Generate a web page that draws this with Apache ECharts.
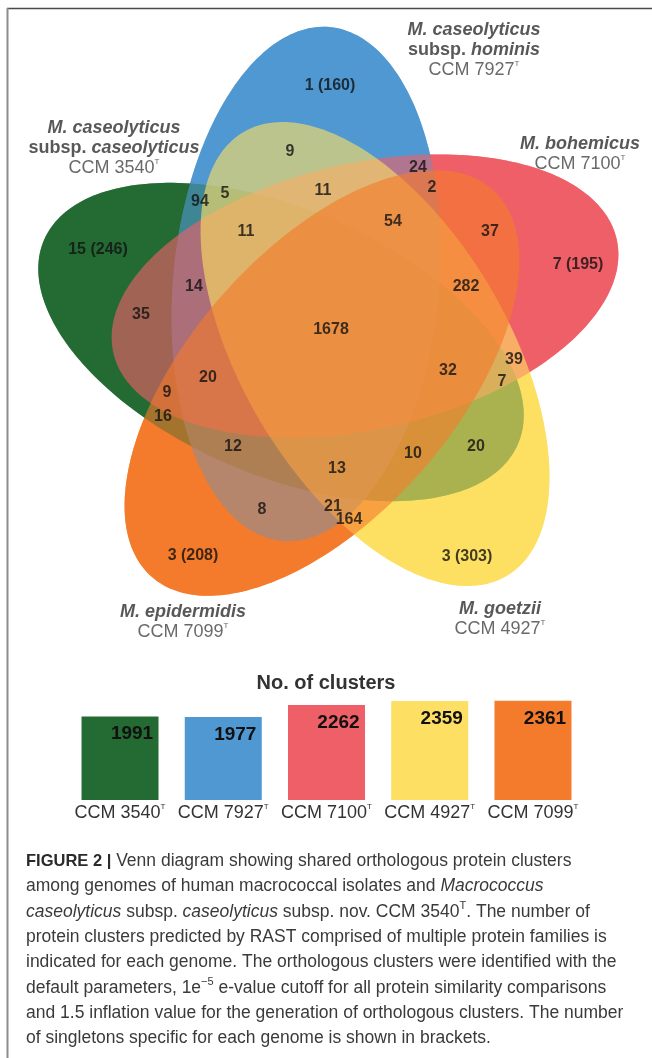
<!DOCTYPE html>
<html>
<head>
<meta charset="utf-8">
<script src="https://cdn.jsdelivr.net/npm/echarts@6/dist/echarts.min.js"></script>
<style>
  html, body { margin: 0; padding: 0; background: #ffffff; }
  #main { width: 652px; height: 1058px; }
</style>
</head>
<body>
<div id="main"></div>
<script>
// ---- Genomes (same order for the Venn sets and the bar chart) ----
const strains = ['CCM 3540', 'CCM 7927', 'CCM 7100', 'CCM 4927', 'CCM 7099'];
const species = ['M. caseolyticus', 'M. caseolyticus', 'M. bohemicus', 'M. goetzii', 'M. epidermidis'];
const subspecies = ['caseolyticus', 'hominis', null, null, null];
const clusterCounts = [1991, 1977, 2262, 2359, 2361];
const setColors = ['#246b33', '#5098d2', '#ef5f67', '#fddf63', '#f37b2b'];

// ---- Venn region values: shared clusters, singletons in brackets ----
const regionCounts = [
  '1 (160)', '9', '24', '2', '94', '5', '11', '11', '54', '37', '7 (195)',
  '15 (246)', '14', '282', '35', '1678', '39', '32', '20', '7', '9', '16',
  '12', '20', '10', '13', '8', '21', '164', '3 (208)', '3 (303)'
];

// ---- Layout of the Venn drawing (plot units = pixels of the Venn grid) ----
const ELLIPSE_A = 258;          // semi-major axis
const ELLIPSE_B = 133;          // semi-minor axis
const FILL_ALPHA = 0.62;        // transparency of the stacked sets
const ellipseLayout = [          // centre x, centre y, major-axis angle (deg)
  [281, 342, 23.3],
  [306, 284, 95.3],
  [365, 296, 167.3],
  [375, 354, 59.3],
  [322, 383, 131.3]
];
const regionPos = [
  [330, 86], [290, 152], [418, 168], [432, 188], [200, 202], [225, 194],
  [323, 191], [246, 232], [393, 222], [490, 232], [578, 265], [98, 250],
  [194, 287], [466, 287], [141, 315], [331, 330], [514, 360], [448, 371],
  [208, 378], [502, 382], [167, 393], [163, 417], [233, 447], [476, 447],
  [413, 454], [337, 469], [262, 510], [333, 507], [349, 520], [193, 556],
  [467, 557]
];
const namePos = [[114, 148], [474, 50], [580, 154], [500, 619], [183, 622]];

const FONT = '"Liberation Sans", Arial, Helvetica, sans-serif';

function hexToRgba(hex, a) {
  const n = parseInt(hex.slice(1), 16);
  return 'rgba(' + (n >> 16) + ',' + ((n >> 8) & 255) + ',' + (n & 255) + ',' + a + ')';
}

function ellipsePolygon(api, setIdx) {
  const [cx, cy, deg] = ellipseLayout[setIdx];
  const th = deg * Math.PI / 180;
  const pts = [];
  const N = 240;
  for (let k = 0; k < N; k++) {
    const t = k / N * Math.PI * 2;
    const ex = ELLIPSE_A * Math.cos(t), ey = ELLIPSE_B * Math.sin(t);
    pts.push(api.coord([cx + ex * Math.cos(th) - ey * Math.sin(th),
                        cy + ex * Math.sin(th) + ey * Math.cos(th)]));
  }
  return pts;
}

// Opaque underlay: the first set (in drawing order) covering a point shows through
const underlayOrder = [4, 3, 2, 1, 0];
const overlayOrder = [0, 1, 2, 3, 4];

function setNameLabel(i) {
  const lines = ['{sp|' + species[i] + '}'];
  if (subspecies[i]) lines.push('{b|subsp. }{sp|' + subspecies[i] + '}');
  lines.push('{r|' + strains[i] + '}{sup|T}');
  return lines.join('\n');
}

const nameRich = {
  sp: { fontFamily: FONT, fontSize: 18, fontWeight: 'bold', fontStyle: 'italic', color: '#2e2e2e', lineHeight: 20, align: 'center' },
  b: { fontFamily: FONT, fontSize: 18, fontWeight: 'bold', color: '#2e2e2e', lineHeight: 20, align: 'center' },
  r: { fontFamily: FONT, fontSize: 18, color: '#444444', lineHeight: 20, align: 'center' },
  sup: { fontFamily: FONT, fontSize: 8, color: '#444444', lineHeight: 10, verticalAlign: 'top', align: 'center' }
};

const chart = echarts.init(document.getElementById('main'), null, { renderer: 'canvas' });

const captionLines = [
  '{b|FIGURE 2 |}{n| Venn diagram showing shared orthologous protein clusters}',
  '{n|among genomes of human macrococcal isolates and }{i|Macrococcus}',
  '{i|caseolyticus}{n| subsp. }{i|caseolyticus}{n| subsp. nov. CCM 3540}{sup|T}{n|. The number of}',
  '{n|protein clusters predicted by RAST comprised of multiple protein families is}',
  '{n|indicated for each genome. The orthologous clusters were identified with the}',
  '{n|default parameters, 1e}{sup|\u22125}{n| e-value cutoff for all protein similarity comparisons}',
  '{n|and 1.5 inflation value for the generation of orthologous clusters. The number}',
  '{n|of singletons specific for each genome is shown in brackets.}'
];
const capStyle = { fontFamily: FONT, fontSize: 17.5, fill: '#3a3a3a', lineHeight: 22 };
const captionRich = {
  n: Object.assign({}, capStyle),
  b: Object.assign({}, capStyle, { fontSize: 16.5, fontWeight: 'bold', fill: '#2a2a2a' }),
  i: Object.assign({}, capStyle, { fontStyle: 'italic' }),
  sup: { fontFamily: FONT, fontSize: 11, fill: '#3a3a3a', lineHeight: 12, verticalAlign: 'top' }
};

const graphics = [
  { type: 'line', shape: { x1: 7, y1: 8.5, x2: 652, y2: 8.5 }, style: { stroke: '#4a4a4a', lineWidth: 1.5 }, silent: true },
  { type: 'line', shape: { x1: 7.5, y1: 8, x2: 7.5, y2: 1058 }, style: { stroke: '#8c8c8c', lineWidth: 2 }, silent: true }
];
captionLines.forEach(function (txt, k) {
  graphics.push({
    type: 'text', left: 26, top: 850 + k * 25.35, silent: true,
    style: Object.assign({ text: txt, rich: captionRich }, capStyle)
  });
});

const option = {
  animation: false,
  backgroundColor: '#ffffff',
  title: {
    text: 'No. of clusters', left: 'center', top: 668,
    textStyle: { fontFamily: FONT, fontSize: 20, fontWeight: 'bold', color: '#333333' }
  },
  grid: [
    { left: 0, right: 0, top: 0, bottom: 0 },
    { left: 68.4, width: 516.2, top: 695, height: 105 }
  ],
  xAxis: [
    { gridIndex: 0, type: 'value', min: 0, max: 652, show: false },
    {
      gridIndex: 1, type: 'category', data: strains,
      axisLine: { show: false }, axisTick: { show: false },
      axisLabel: {
        margin: 3, interval: 0,
        formatter: function (v) { return '{a|' + v + '}{sup|T}'; },
        rich: {
          a: { fontFamily: FONT, fontSize: 18, color: '#333333', lineHeight: 20 },
          sup: { fontFamily: FONT, fontSize: 8, color: '#333333', lineHeight: 10, verticalAlign: 'top' }
        }
      }
    }
  ],
  yAxis: [
    { gridIndex: 0, type: 'value', min: 0, max: 1058, inverse: true, show: false },
    { gridIndex: 1, type: 'value', min: 0, max: 2500, show: false }
  ],
  series: [
    {
      type: 'custom', name: 'underlay', xAxisIndex: 0, yAxisIndex: 0, silent: true, z: 1,
      data: underlayOrder.map(function (i) { return [ellipseLayout[i][0], ellipseLayout[i][1], i]; }),
      renderItem: function (params, api) {
        const i = api.value(2);
        return { type: 'polygon', shape: { points: ellipsePolygon(api, i) }, style: { fill: setColors[i] } };
      }
    },
    {
      type: 'custom', name: 'sets', xAxisIndex: 0, yAxisIndex: 0, silent: true, z: 2,
      data: overlayOrder.map(function (i) { return [ellipseLayout[i][0], ellipseLayout[i][1], i]; }),
      renderItem: function (params, api) {
        const i = api.value(2);
        return { type: 'polygon', shape: { points: ellipsePolygon(api, i) }, style: { fill: hexToRgba(setColors[i], FILL_ALPHA) } };
      }
    },
    {
      type: 'scatter', name: 'regions', xAxisIndex: 0, yAxisIndex: 0, silent: true, z: 5,
      symbolSize: 0,
      data: regionPos.map(function (p, k) { return { value: p, name: regionCounts[k] }; }),
      label: {
        show: true, position: 'inside',
        formatter: function (p) { return p.name; },
        fontFamily: FONT, fontSize: 16, fontWeight: 'bold', color: '#111111'
      }
    },
    {
      type: 'scatter', name: 'setNames', xAxisIndex: 0, yAxisIndex: 0, silent: true, z: 5,
      symbolSize: 0,
      data: namePos.map(function (p, k) { return { value: p, name: strains[k] }; }),
      label: {
        show: true, position: 'inside', align: 'center', verticalAlign: 'middle',
        formatter: function (p) { return setNameLabel(p.dataIndex); },
        rich: nameRich
      }
    },
    {
      type: 'bar', name: 'No. of clusters', xAxisIndex: 1, yAxisIndex: 1, silent: true,
      barWidth: 77,
      data: clusterCounts.map(function (v, k) { return { value: v, itemStyle: { color: setColors[k] } }; }),
      label: {
        show: true, position: 'insideTop', distance: 8, offset: [12, 0],
        fontFamily: '"Liberation Sans Narrow", "Liberation Sans", Arial, sans-serif',
        fontSize: 19, fontWeight: 'bold', color: '#111111', lineHeight: 19
      }
    }
  ],
  graphic: graphics
};

chart.setOption(option);
</script>
</body>
</html>
